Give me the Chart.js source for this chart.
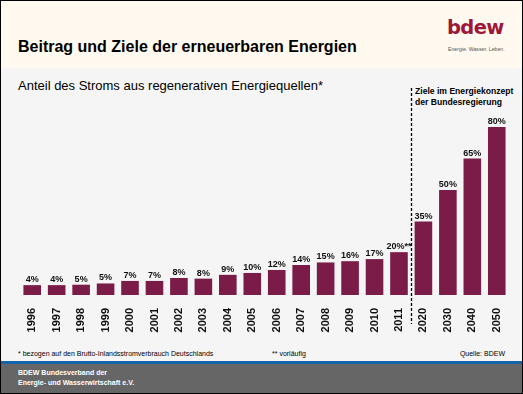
<!DOCTYPE html>
<html>
<head>
<meta charset="utf-8">
<script src="https://cdn.jsdelivr.net/npm/chart.js@4/dist/chart.umd.min.js"></script>
<style>
  html, body { margin: 0; padding: 0; background: #fff; }
  #frame {
    position: relative;
    width: 523px;
    height: 394px;
    overflow: hidden;
    font-family: "Liberation Sans", Arial, sans-serif;
    background: #f5f5f5;
  }
  .abs { position: absolute; white-space: nowrap; }
  #header { left: 0; top: 0; width: 523px; height: 68px; background: #fff9ef; }
  #blue { left: 0; top: 361px; width: 523px; height: 3px; background: #1563a8; }
  #footer { left: 0; top: 364px; width: 523px; height: 30px; background: #666666; }
  #border {
    left: 0; top: 0; width: 521px; height: 392px;
    border: 1px solid #000; border-right-width: 2px; border-bottom-width: 2px;
    z-index: 5;
  }
  #title { left: 18px; top: 38px; font-size: 16px; font-weight: bold; color: #000; }
  #logo { left: 447px; top: 16px; font-family: "DejaVu Sans", sans-serif; font-size: 19.5px; font-weight: bold; color: #9e1738; letter-spacing: -0.6px; }
  #tagline { left: 448px; top: 46px; font-size: 5.2px; color: #555; }
  #subtitle { left: 18px; top: 78px; font-size: 13px; color: #000; }
  #goal { left: 415px; top: 86px; font-size: 8.6px; font-weight: bold; line-height: 11px; color: #000; }
  .note { top: 350px; font-size: 7px; color: #000; }
  #org { left: 18px; top: 368px; font-size: 7px; font-weight: bold; line-height: 9.5px; color: #fff; }
  #chartBox { left: 0; top: 0; width: 523px; height: 394px; z-index: 3; }
</style>
</head>
<body>
<div id="frame">
  <div class="abs" id="header"></div>
  <div class="abs" id="blue"></div>
  <div class="abs" id="footer"></div>
  <div class="abs" id="title">Beitrag und Ziele der erneuerbaren Energien</div>
  <div class="abs" id="logo">bdew</div>
  <div class="abs" id="tagline">Energie. Wasser. Leben.</div>
  <div class="abs" id="subtitle">Anteil des Stroms aus regenerativen Energiequellen*</div>
  <div class="abs" id="goal">Ziele im Energiekonzept<br>der Bundesregierung</div>
  <div class="abs note" style="left:18px">* bezogen auf den Brutto-Inlandsstromverbrauch Deutschlands</div>
  <div class="abs note" style="left:272px">** vorläufig</div>
  <div class="abs note" style="right:18px">Quelle: BDEW</div>
  <div class="abs" id="org">BDEW Bundesverband der<br>Energie- und Wasserwirtschaft e.V.</div>
  <div class="abs" id="chartBox"><canvas id="chart" width="523" height="394"></canvas></div>
  <div class="abs" id="border"></div>
</div>
<script>
const years = ['1996', '1997', '1998', '1999', '2000', '2001', '2002', '2003', '2004', '2005',
  '2006', '2007', '2008', '2009', '2010', '2011', '2020', '2030', '2040', '2050'];
const shares = [4.7, 4.7, 4.9, 5.5, 6.7, 6.7, 8.1, 7.8, 9.6, 10.5,
  11.9, 14.3, 15.5, 16.1, 17.1, 20.4, 35, 50, 65, 80];
const shareLabels = ['4%', '4%', '5%', '5%', '7%', '7%', '8%', '8%', '9%', '10%',
  '12%', '14%', '15%', '16%', '17%', '20%**', '35%', '50%', '65%', '80%'];
const firstGoalIndex = 16;

const BAR_COLOR = '#7b1c48';

// value labels above each bar
const valueLabels = {
  id: 'valueLabels',
  afterDatasetsDraw(chart) {
    const ctx = chart.ctx;
    const meta = chart.getDatasetMeta(0);
    ctx.save();
    ctx.font = 'bold 9px "Liberation Sans", Arial, sans-serif';
    ctx.fillStyle = '#111';
    ctx.textAlign = 'center';
    ctx.textBaseline = 'alphabetic';
    meta.data.forEach((bar, i) => {
      ctx.fillText(shareLabels[i], bar.x, bar.y - 3);
    });
    ctx.restore();
  }
};

// dashed divider between actual values and goals
const goalDivider = {
  id: 'goalDivider',
  afterDraw(chart) {
    const x = chart.scales.x;
    const px = (x.getPixelForValue(firstGoalIndex - 1) + x.getPixelForValue(firstGoalIndex)) / 2;
    const ctx = chart.ctx;
    ctx.save();
    ctx.strokeStyle = '#000';
    ctx.lineWidth = 1.3;
    ctx.setLineDash([3, 2]);
    ctx.beginPath();
    ctx.moveTo(Math.round(px) + 0.5, 88);
    ctx.lineTo(Math.round(px) + 0.5, 324);
    ctx.stroke();
    ctx.restore();
  }
};

window.addEventListener('DOMContentLoaded', () => {
  new Chart(document.getElementById('chart'), {
    type: 'bar',
    data: {
      labels: years,
      datasets: [{
        data: shares,
        backgroundColor: BAR_COLOR,
        borderWidth: 0,
        categoryPercentage: 1,
        barPercentage: 0.72,
      }],
    },
    options: {
      responsive: false,
      animation: false,
      events: [],
      layout: { padding: { left: 20, right: 14, top: 85, bottom: 0 } },
      plugins: {
        legend: { display: false },
        tooltip: { enabled: false },
      },
      scales: {
        x: {
          grid: { display: false },
          border: { display: false },
          ticks: {
            color: '#111',
            font: { family: '"Liberation Sans", Arial, sans-serif', size: 11, weight: 'bold' },
            minRotation: 90,
            maxRotation: 90,
            padding: 5,
            autoSkip: false,
          },
          afterFit(scale) { scale.height = 99; },
        },
        y: {
          display: false,
          min: 0,
          max: 100,
        },
      },
    },
    plugins: [valueLabels, goalDivider],
  });
});
</script>
</body>
</html>
